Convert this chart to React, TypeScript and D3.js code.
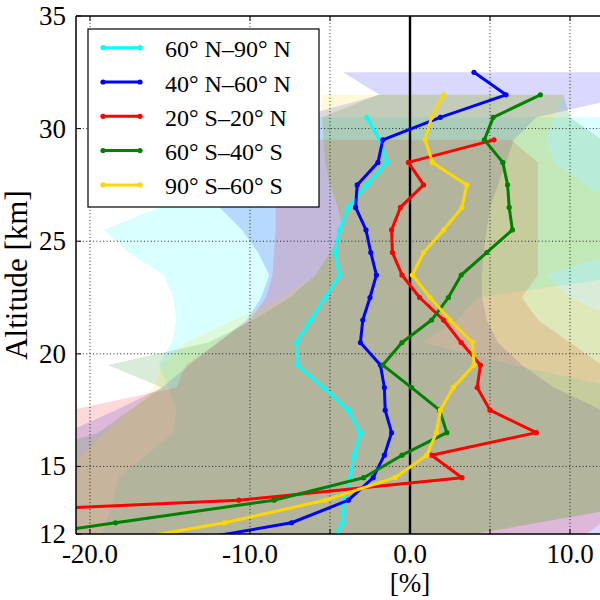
import { useEffect, useRef } from 'react';
import * as d3 from 'd3';

// altitude levels of the profiles [km]
const ALTITUDES = [11.5, 12.5, 13.5, 14.5, 15.5, 16.5, 17.5, 18.5, 19.5, 20.5, 21.5, 22.5, 23.5, 24.5, 25.5, 26.5, 27.5, 28.5, 29.5, 30.5, 31.5, 32.5];

const LABELS = ['60° N–90° N', '40° N–60° N', '20° S–20° N', '60° S–40° S', '90° S–60° S'];
const COLORS = ['#00ffff', '#0000ff', '#ff0000', '#008000', '#ffd700'];

// mean profiles [%]
const CYAN_MEAN = [-5.0, -4.2, -4.1, -3.75, -3.5, -3.1, -3.85, -5.4, -7.05, -7.1, -6.2, -5.3, -4.4, -4.7, -4.4, -3.85, -2.7, -1.45, -1.9, -2.7, null, null];
const BLUE_MEAN = [-15.5, -7.4, -3.85, -2.3, -1.6, -1.15, -1.55, -1.6, -1.85, -3.1, -2.95, -2.5, -2.1, -2.45, -2.75, -3.4, -3.3, -2.0, -1.7, 1.9, 6.0, 4.0];
const RED_MEAN = [null, -42, -10.7, 3.25, 1.35, 7.9, 5.0, 4.2, 4.4, 3.2, 2.1, 0.6, -0.5, -1.1, -1.15, -0.6, 0.85, -0.1, 5.25, null, null, null];
const GREEN_MEAN = [-28, -18.4, -8.5, -2.9, -0.5, 2.3, 1.85, 0.1, -1.7, -0.5, 1.35, 2.4, 3.2, 4.8, 6.4, 6.2, 6.1, 5.8, 4.65, 5.2, 8.15, null];
const YELLOW_MEAN = [-19.6, -11.6, -5.3, -0.95, 1.05, 1.65, 1.9, 2.7, 4.0, 3.9, 2.5, 1.25, 0.15, 0.85, 2.1, 3.25, 3.55, 1.4, 0.95, 1.35, 2.1, null];

// spread envelopes [%]
const CYAN_LO = [-19.5, -19, -18.6, -18.2, -16.5, -14.8, -14.6, -15.1, -15.7, -14.9, -14.6, -14.8, -15.4, -17.6, -19.1, -15.7, -14.5, -12.5, -10, -8, null, null];
const CYAN_HI = [0, 8, 16, 16, 16, 15, 15, 13, 6.5, 0.8, 3, 4.2, 14, 14, 14, 13, 13, 14, 15, 15, null, null];
const BLUE_LO = [-32, -30, -28, -26, -24, -21.5, -18.4, -15.5, -13.8, -12, -10.2, -9.3, -8.8, -9.5, -10.5, -11.9, -13, -12, -10, -7, -1.9, -4.2];
const BLUE_HI = [16, 16, 16, 16, 15, 14, 12, 9, 7, 5.5, 4.8, 4.5, 4.5, 4.6, 4.8, 5, 5.5, 6, 6.5, 7.9, 14, 25];
const RED_LO = [-34, -34, -34, -34, -34, -40, -21.2, -14.6, -14, -12, -10, -9, -8.6, -8.5, -8.4, -8.4, -8.6, -9, -9, null, null, null];
const RED_HI = [10, 12, 14, 15, 16, 17, 16, 14, 12, 10, 8, 7, 8, 8, 8, 8, 8, 8, 6.3, null, null, null];
const GREEN_LO = [-40, -36, -32, -28, -24, -19.5, -17.5, -15.5, -18.9, -12.6, -9.8, -7.5, -5.9, -5, -4.2, -4.5, -5, -5.3, -5.4, -5.5, -2, null];
const GREEN_HI = [0, 8, 16, 16, 16, 16, 16, 16, 16, 16, 16, 15, 15, 15, 15, 15, 16, 15, 12, 10, 9.6, null];
const YELLOW_LO = [-28, -26, -24, -22, -20.5, -19, -17.5, -16, -15.5, -14, -11, -8, -5.9, -5, -4.2, -4.5, -5, -5.3, -5.4, -5.5, -5.5, null];
const YELLOW_HI = [0, 8, 16, 16, 16, 16, 16, 16, 15, 14, 13, 10, 8.5, 13, 14, 13, 11, 9, 8.5, 9, 9.6, null];

const X_TICKS = [-20, -10, 0, 10];
const X_GRID = [-20, -10, -5, 5, 10, 20];
const Y_TICKS = [12, 15, 20, 25, 30, 35];

const SERIES = [
  { label: LABELS[0], color: COLORS[0], mean: CYAN_MEAN, lo: CYAN_LO, hi: CYAN_HI },
  { label: LABELS[1], color: COLORS[1], mean: BLUE_MEAN, lo: BLUE_LO, hi: BLUE_HI },
  { label: LABELS[2], color: COLORS[2], mean: RED_MEAN, lo: RED_LO, hi: RED_HI },
  { label: LABELS[3], color: COLORS[3], mean: GREEN_MEAN, lo: GREEN_LO, hi: GREEN_HI },
  { label: LABELS[4], color: COLORS[4], mean: YELLOW_MEAN, lo: YELLOW_LO, hi: YELLOW_HI },
];

const FONT = '"Liberation Serif", "Times New Roman", "DejaVu Serif", serif';

export default function App() {
  const svgRef = useRef<SVGSVGElement>(null);

  useEffect(() => {
    if (!svgRef.current) return;
    const svg = d3.select(svgRef.current);
    svg.selectAll('*').remove();

    const left = 76;
    const top = 16;
    const bottom = 534;
    const right = 744; // axes continue past the picture edge

    const x = d3.scaleLinear().domain([-20.875, 20.875]).range([left, right]);
    const y = d3.scaleLinear().domain([12, 35]).range([bottom, top]);

    svg
      .append('defs')
      .append('clipPath')
      .attr('id', 'plot-clip')
      .append('rect')
      .attr('x', left)
      .attr('y', top)
      .attr('width', right - left)
      .attr('height', bottom - top);

    const plot = svg.append('g').attr('clip-path', 'url(#plot-clip)');

    // shaded envelopes
    SERIES.forEach((s) => {
      const area = d3
        .area<number>()
        .defined((i) => s.lo[i] != null && s.hi[i] != null)
        .y((i) => y(ALTITUDES[i]))
        .x0((i) => x(s.lo[i] as number))
        .x1((i) => x(s.hi[i] as number));
      plot
        .append('path')
        .attr('d', area(d3.range(ALTITUDES.length)))
        .attr('fill', s.color)
        .attr('fill-opacity', 0.15)
        .attr('stroke', 'none');
    });

    // grid
    const grid = plot.append('g').attr('stroke', '#222').attr('stroke-width', 1).attr('stroke-dasharray', '1,2.4');
    X_GRID.forEach((v) => {
      grid.append('line').attr('x1', x(v)).attr('x2', x(v)).attr('y1', top).attr('y2', bottom);
    });
    Y_TICKS.slice(1, -1).forEach((v) => {
      grid.append('line').attr('x1', left).attr('x2', right).attr('y1', y(v)).attr('y2', y(v));
    });

    // zero line
    plot
      .append('line')
      .attr('x1', x(0))
      .attr('x2', x(0))
      .attr('y1', top)
      .attr('y2', bottom)
      .attr('stroke', '#000')
      .attr('stroke-width', 2.4);

    // profiles
    SERIES.forEach((s) => {
      const idx = d3.range(ALTITUDES.length).filter((i) => s.mean[i] != null);
      const line = d3
        .line<number>()
        .x((i) => x(s.mean[i] as number))
        .y((i) => y(ALTITUDES[i]));
      plot
        .append('path')
        .attr('d', line(idx))
        .attr('fill', 'none')
        .attr('stroke', s.color)
        .attr('stroke-width', 3)
        .attr('stroke-linejoin', 'round');
      plot
        .selectAll(null)
        .data(idx)
        .enter()
        .append('circle')
        .attr('cx', (i) => x(s.mean[i] as number))
        .attr('cy', (i) => y(ALTITUDES[i]))
        .attr('r', 2.6)
        .attr('fill', s.color);
    });

    // spines
    const spines = svg.append('g').attr('stroke', '#000').attr('stroke-width', 1.5).attr('fill', 'none');
    spines.append('line').attr('x1', left).attr('x2', left).attr('y1', top).attr('y2', bottom);
    spines.append('line').attr('x1', left).attr('x2', right).attr('y1', top).attr('y2', top);
    spines.append('line').attr('x1', left).attr('x2', right).attr('y1', bottom).attr('y2', bottom);

    // tick marks (inward)
    const ticks = svg.append('g').attr('stroke', '#000').attr('stroke-width', 1);
    X_GRID.concat([0]).forEach((v) => {
      ticks.append('line').attr('x1', x(v)).attr('x2', x(v)).attr('y1', bottom).attr('y2', bottom - 5);
      ticks.append('line').attr('x1', x(v)).attr('x2', x(v)).attr('y1', top).attr('y2', top + 5);
    });
    Y_TICKS.forEach((v) => {
      ticks.append('line').attr('x1', left).attr('x2', left + 5).attr('y1', y(v)).attr('y2', y(v));
    });

    // tick labels
    const labels = svg.append('g').attr('fill', '#000');
    X_TICKS.forEach((v) => {
      labels
        .append('text')
        .attr('x', x(v))
        .attr('y', 563)
        .attr('text-anchor', 'middle')
        .style('font-family', FONT)
        .style('font-size', '27px')
        .text(d3.format('.1f')(v).replace('−', '-'));
    });
    Y_TICKS.forEach((v) => {
      labels
        .append('text')
        .attr('x', 66)
        .attr('y', y(v) + 9)
        .attr('text-anchor', 'end')
        .style('font-family', FONT)
        .style('font-size', '27px')
        .text(String(v));
    });

    // axis labels
    labels
      .append('text')
      .attr('x', x(0))
      .attr('y', 592)
      .attr('text-anchor', 'middle')
      .style('font-family', FONT)
      .style('font-size', '27px')
      .text('[%]');
    labels
      .append('text')
      .attr('transform', `translate(27,${(top + bottom) / 2}) rotate(-90)`)
      .attr('text-anchor', 'middle')
      .style('font-family', FONT)
      .style('font-size', '31px')
      .text('Altitude [km]');

    // legend
    const legend = svg.append('g');
    legend
      .append('rect')
      .attr('x', 88)
      .attr('y', 29)
      .attr('width', 231)
      .attr('height', 178)
      .attr('fill', '#fff')
      .attr('stroke', '#000')
      .attr('stroke-width', 1.2);
    SERIES.forEach((s, k) => {
      const cy = 47.7 + k * 34.3;
      legend
        .append('line')
        .attr('x1', 103)
        .attr('x2', 140)
        .attr('y1', cy)
        .attr('y2', cy)
        .attr('stroke', s.color)
        .attr('stroke-width', 3);
      [103, 140].forEach((cx) => {
        legend.append('circle').attr('cx', cx).attr('cy', cy).attr('r', 2.6).attr('fill', s.color);
      });
      legend
        .append('text')
        .attr('x', 165)
        .attr('y', cy + 9.5)
        .attr('fill', '#000')
        .style('font-family', FONT)
        .style('font-size', '24px')
        .text(s.label);
    });
  }, []);

  return (
    <div style={{ position: 'absolute', left: 0, top: 0, width: 600, height: 600, background: '#fff' }}>
      <svg ref={svgRef} width={600} height={600} style={{ display: 'block' }} />
    </div>
  );
}
